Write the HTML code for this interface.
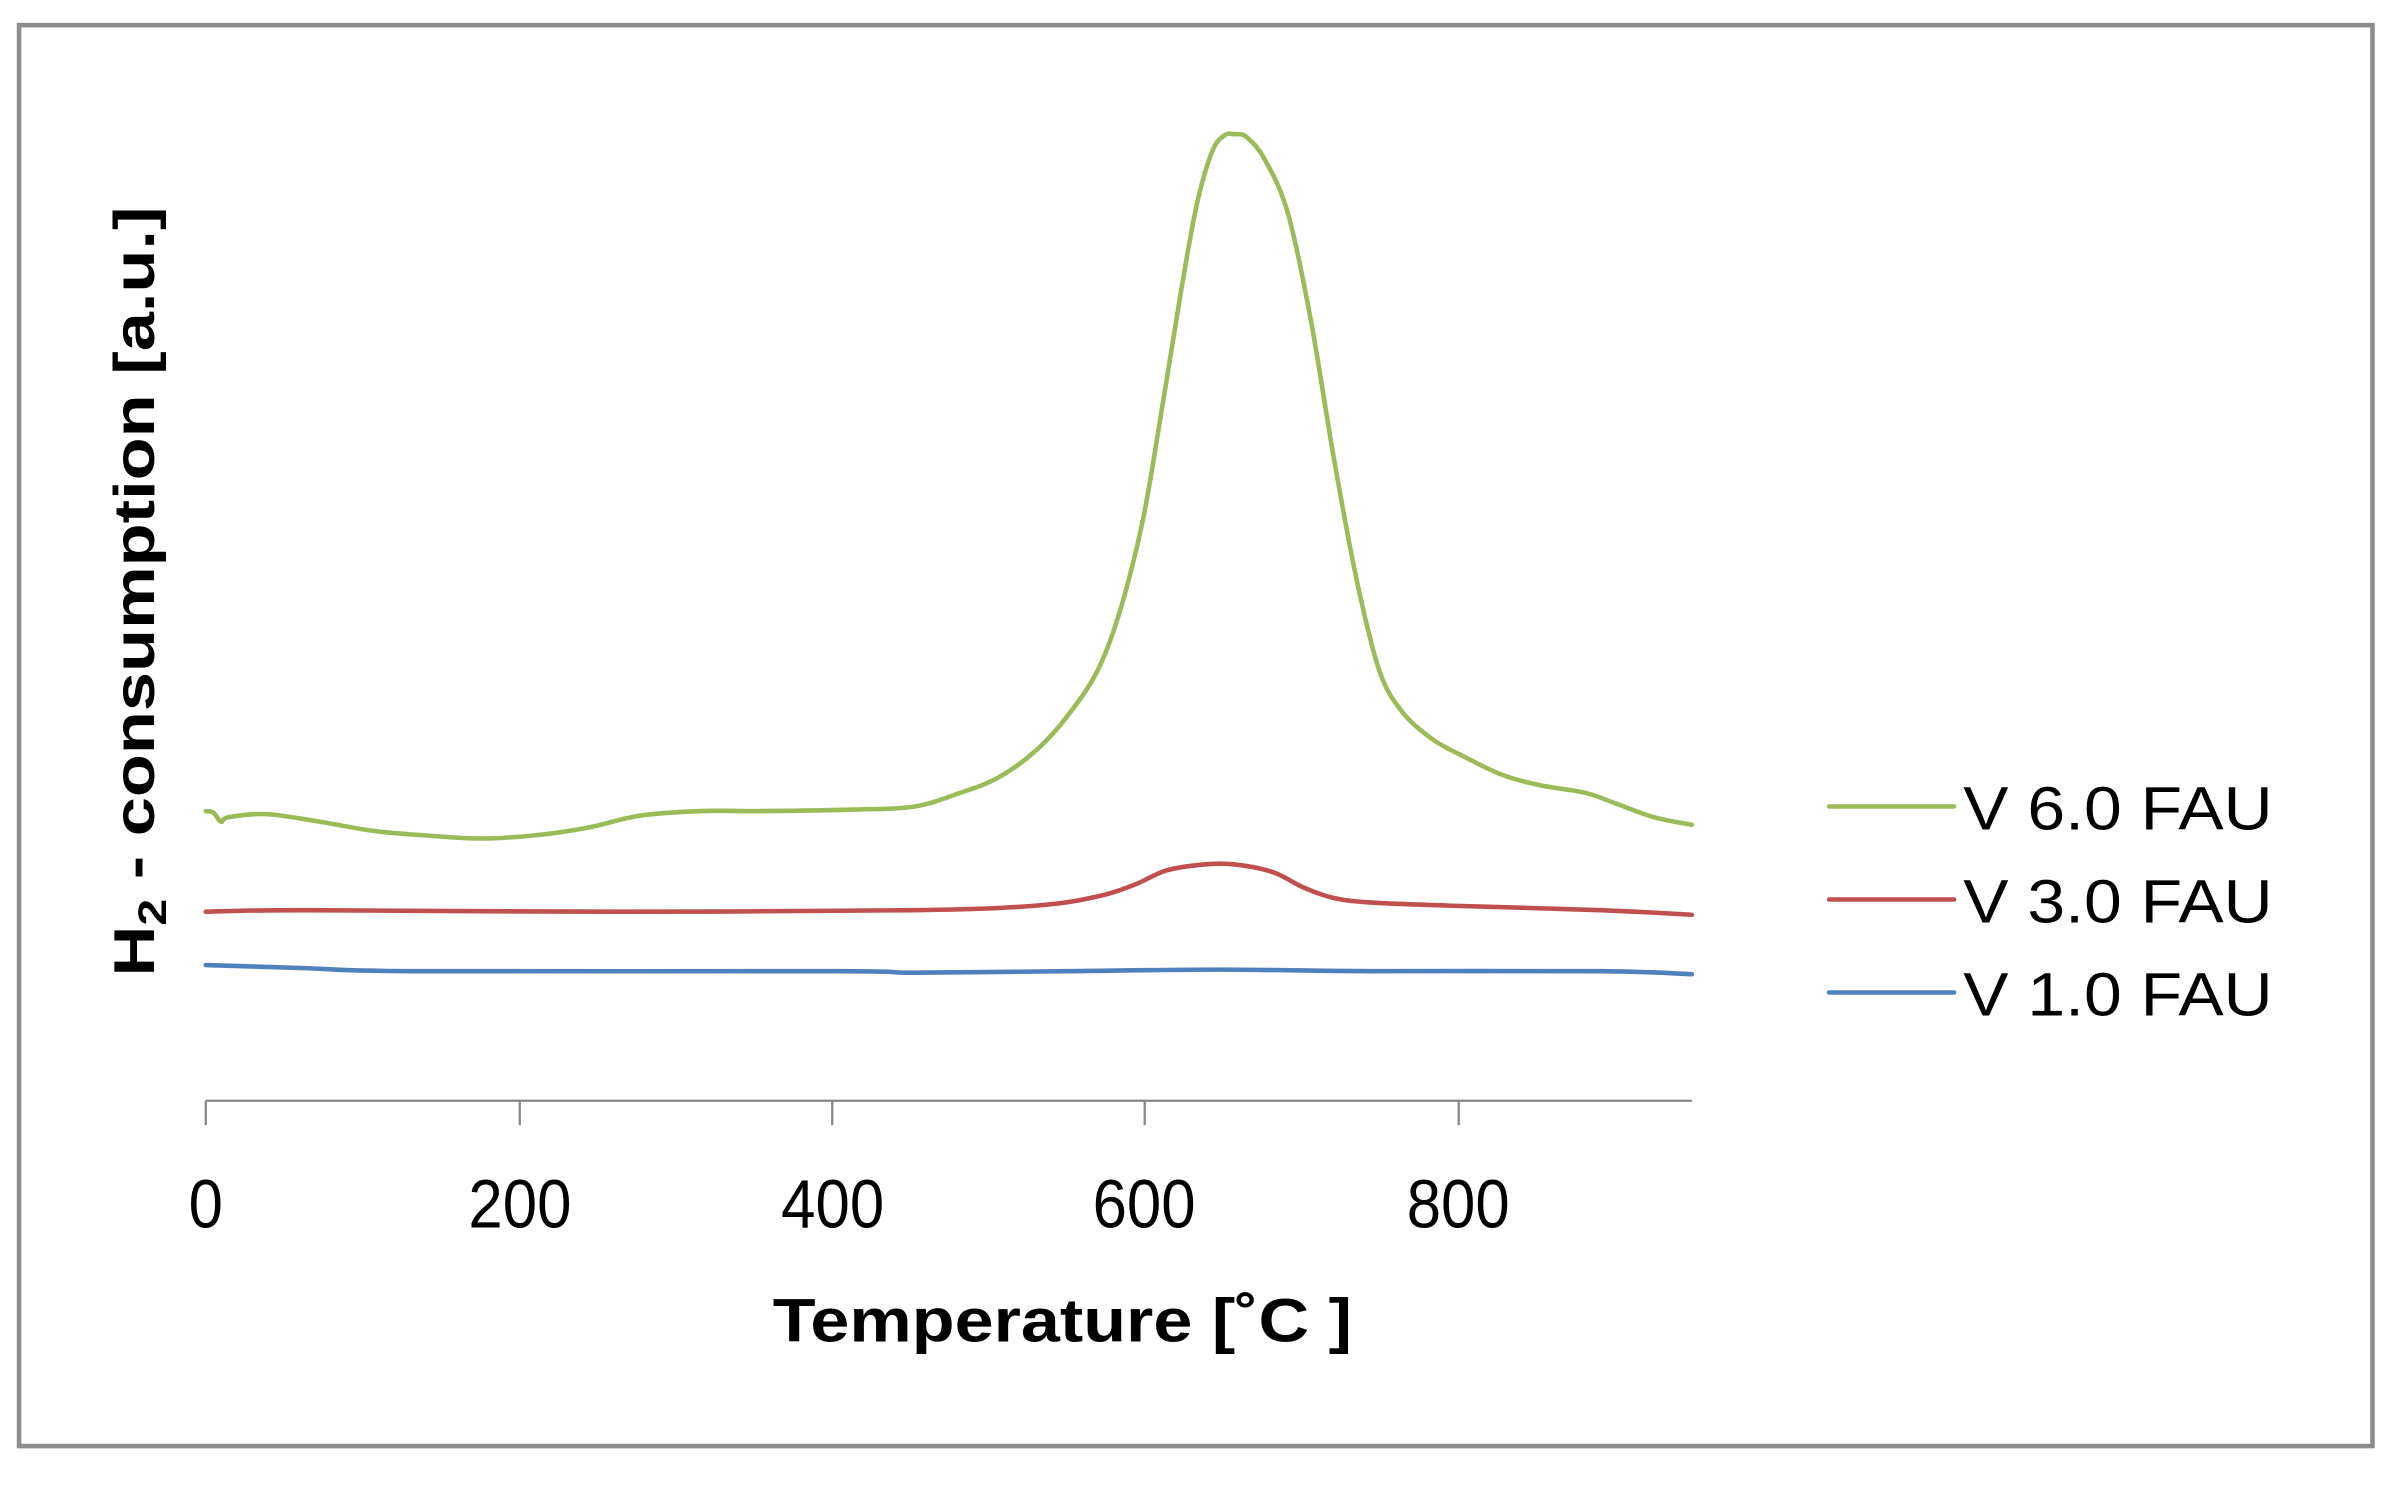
<!DOCTYPE html>
<html><head><meta charset="utf-8"><style>
html,body{margin:0;padding:0;background:#fff;width:2390px;height:1488px;overflow:hidden}
svg{display:block}
text{font-family:"Liberation Sans",sans-serif;fill:#000}
</style></head><body>
<svg id="s" width="2390" height="1488" viewBox="0 0 1568 976" preserveAspectRatio="none" xmlns="http://www.w3.org/2000/svg">
<rect x="0" y="0" width="1568" height="976" fill="#fff"/>
<rect x="12.5" y="16.5" width="1544" height="932" fill="none" stroke="#8c8c8c" stroke-width="3"/>
<g stroke="#888" stroke-width="1.5">
<line x1="135" y1="722" x2="1110" y2="722"/>
<line x1="135" y1="722" x2="135" y2="738"/>
<line x1="341" y1="722" x2="341" y2="738"/>
<line x1="546" y1="722" x2="546" y2="738"/>
<line x1="751" y1="722" x2="751" y2="738"/>
<line x1="957" y1="722" x2="957" y2="738"/>
</g>
<g font-size="45" text-anchor="middle" transform="scale(0.9,1)">
<text x="150" y="805">0</text>
<text x="379" y="805">200</text>
<text x="607" y="805">400</text>
<text x="834" y="805">600</text>
<text x="1063" y="805">800</text>
</g>
<text x="697" y="880" font-size="40" font-weight="bold" text-anchor="middle" textLength="380" lengthAdjust="spacingAndGlyphs">Temperature [˚C ]</text>
<text transform="translate(101,388) rotate(-90)" font-size="38" font-weight="bold" text-anchor="middle" textLength="505" lengthAdjust="spacingAndGlyphs">H<tspan font-size="26" dy="8">2</tspan><tspan dy="-8"> - consumption   [a.u.]</tspan></text>
<g fill="none" stroke-width="3" stroke-linejoin="round" stroke-linecap="round">
<polyline class="sm" stroke="#9bbb59" points="135,532 140,533 145,539 150,536 175,534 210,539 245,545 280,548 315,550 350,548 385,543 420,535 460,532 500,532 560,531 600,529 630,520 655,510 680,492 700,470 720,440 735,400 750,340 762,270 775,190 785,135 795,100 803,89 810,88 818,90 830,105 845,140 860,210 875,300 890,380 905,440 920,467 940,485 960,496 985,508 1010,515 1040,520 1060,527 1085,536 1110,541"/>
<polyline class="sm" stroke="#c0504d" points="135,598 200,597 400,598 600,597 680,594 720,588 745,580 765,571 790,567 810,567 835,572 855,582 875,589 900,592 950,594 1050,597 1110,600"/>
<polyline class="sm" stroke="#4f81bd" points="135,633 200,635 270,637 550,637 600,638 700,637 800,636 900,637 1050,637 1110,639"/>
<line x1="1200" y1="529" x2="1282" y2="529" stroke="#9bbb59"/>
<line x1="1200" y1="590" x2="1282" y2="590" stroke="#c0504d"/>
<line x1="1200" y1="651" x2="1282" y2="651" stroke="#4f81bd"/>
</g>
<g font-size="40">
<text x="1288" y="544" textLength="203" lengthAdjust="spacingAndGlyphs">V 6.0 FAU</text>
<text x="1288" y="605" textLength="203" lengthAdjust="spacingAndGlyphs">V 3.0 FAU</text>
<text x="1288" y="666" textLength="203" lengthAdjust="spacingAndGlyphs">V 1.0 FAU</text>
</g>
</svg>
<script>
document.querySelectorAll('polyline.sm').forEach(function(pl){
  var p=pl.getAttribute('points').trim().split(/\s+/).map(function(s){return s.split(',').map(Number);});
  var d='M'+p[0][0]+','+p[0][1];
  for(var i=0;i<p.length-1;i++){
    var p0=p[i-1]||p[i],p1=p[i],p2=p[i+1],p3=p[i+2]||p2;
    var c1x=p1[0]+(p2[0]-p0[0])/6,c1y=p1[1]+(p2[1]-p0[1])/6;
    var c2x=p2[0]-(p3[0]-p1[0])/6,c2y=p2[1]-(p3[1]-p1[1])/6;
    d+=' C'+c1x+','+c1y+' '+c2x+','+c2y+' '+p2[0]+','+p2[1];
  }
  var path=document.createElementNS('http://www.w3.org/2000/svg','path');
  path.setAttribute('d',d);path.setAttribute('stroke',pl.getAttribute('stroke'));
  pl.parentNode.replaceChild(path,pl);
});
</script>
</body></html>
